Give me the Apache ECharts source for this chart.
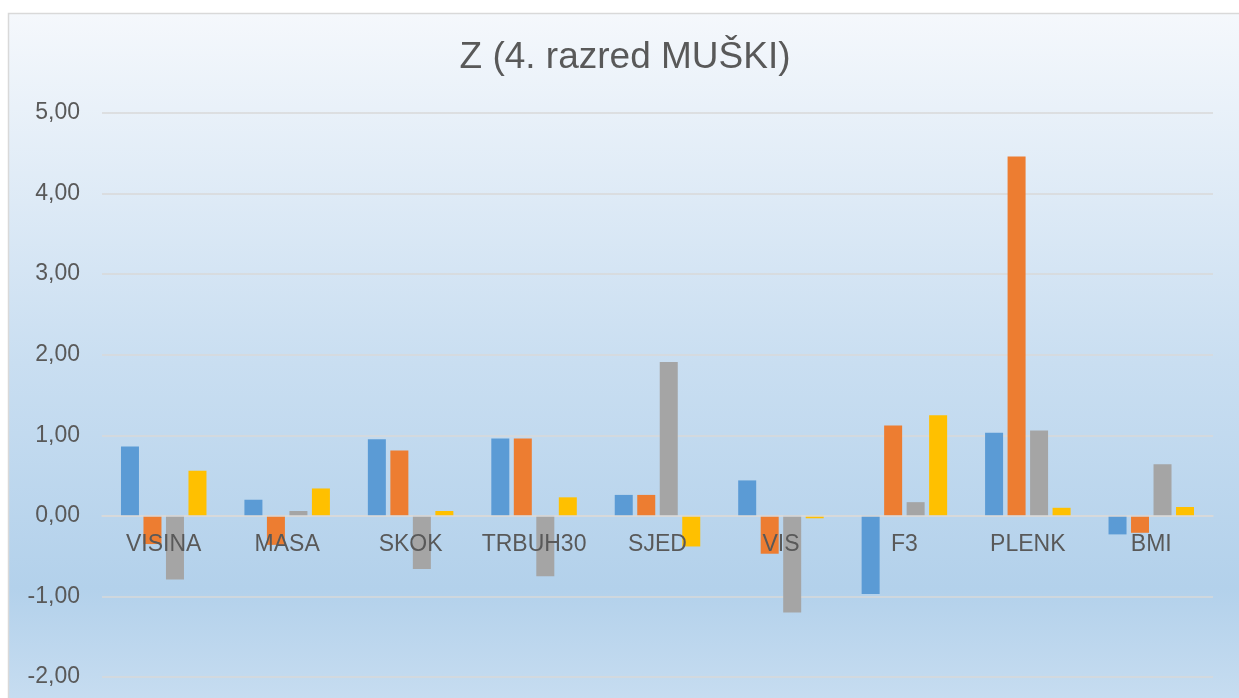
<!DOCTYPE html>
<html>
<head>
<meta charset="utf-8">
<script src="https://cdn.jsdelivr.net/npm/echarts@6/dist/echarts.min.js"></script>
<style>
html,body{margin:0;padding:0;background:#fff;}
#chart{width:1239px;height:698px;}
</style>
</head>
<body>
<div id="chart"></div>
<script>
const titleText = 'Z (4. razred MUŠKI)';
const categories = ['VISINA','MASA','SKOK','TRBUH30','SJED','VIS','F3','PLENK','BMI'];
const seriesNames = ['Niz1','Niz2','Niz3','Niz4'];
const blueValues   = [0.86, 0.20, 0.95, 0.96, 0.26, 0.44, -0.97, 1.03, -0.23];
const orangeValues = [-0.35, -0.36, 0.81, 0.96, 0.26, -0.47, 1.12, 4.46, -0.21];
const grayValues   = [-0.79, 0.06, -0.66, -0.75, 1.91, -1.20, 0.17, 1.06, 0.64];
const yellowValues = [0.56, 0.34, 0.06, 0.23, -0.38, -0.03, 1.25, 0.10, 0.11];
const yMin = -2, yMax = 5, yStep = 1;

const colors = ['#5b9bd5','#ed7d31','#a5a5a5','#ffc000'];
const allValues = [blueValues, orangeValues, grayValues, yellowValues];
const font = '"Liberation Sans", Arial, sans-serif';

const W = 1239, H = 698;
const gridTop = 113, gridBottom = 21, gridLeft = 102, gridRight = 26;
const plotHeight = H - gridTop - gridBottom;
// move the category axis up to the zero line (labels sit just under it)
const zeroOffset = -plotHeight * (0 - yMin) / (yMax - yMin);

const chart = echarts.init(document.getElementById('chart'), null, {renderer:'canvas'});
chart.setOption({
  backgroundColor: '#ffffff',
  animation: false,
  graphic: [
    {
      type: 'rect', z: -10, silent: true,
      shape: {x: 8.5, y: 13.5, width: 1250, height: 700},
      style: {
        fill: new echarts.graphic.LinearGradient(0, 0, 0, 1, [
          {offset: 0, color: '#f5f8fc'},
          {offset: 0.5, color: '#c9def1'},
          {offset: 0.82, color: '#b3d1eb'},
          {offset: 1, color: '#c9def1'}
        ]),
        stroke: '#d9d9d9', lineWidth: 1.5
      }
    },
    {
      type: 'text', z: 10, silent: true,
      style: {
        text: titleText, x: 625, y: 58,
        textAlign: 'center', textVerticalAlign: 'middle',
        font: '37px ' + font, fill: '#595959'
      }
    }
  ],
  grid: {left: gridLeft, right: gridRight, top: gridTop, bottom: gridBottom, containLabel: false, outerBoundsMode: 'none'},
  xAxis: {
    type: 'category',
    data: categories,
    z: 10,
    offset: zeroOffset,
    axisLine: {show: true, onZero: false, lineStyle: {color: '#d9d9d9', width: 1.5}},
    axisTick: {show: false},
    axisLabel: {color: '#595959', fontSize: 23, fontFamily: font, margin: 17, interval: 0},
    splitLine: {show: false}
  },
  yAxis: {
    type: 'value',
    min: yMin, max: yMax, interval: yStep,
    axisLine: {show: false},
    axisTick: {show: false},
    axisLabel: {
      color: '#595959', fontSize: 23, fontFamily: font, margin: 22,
      formatter: v => v.toFixed(2).replace('.', ',')
    },
    splitLine: {lineStyle: {color: '#d9d9d9', width: 1.5}}
  },
  series: allValues.map((vals, i) => ({
    name: seriesNames[i],
    type: 'bar',
    data: vals,
    barWidth: 18,
    barGap: '25%',
    itemStyle: {color: colors[i]}
  }))
});
</script>
</body>
</html>
